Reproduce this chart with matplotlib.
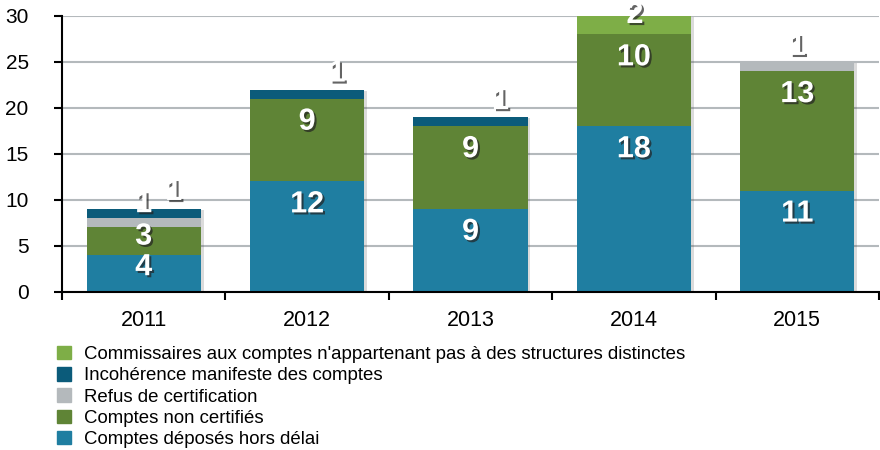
import matplotlib
matplotlib.use("Agg")
import matplotlib.pyplot as plt
import matplotlib.patheffects as pe
from matplotlib.patches import Patch
import numpy as np

plt.rcParams['font.family'] = ['Liberation Sans', 'DejaVu Sans']

# Data ---------------------------------------------------
years = ['2011', '2012', '2013', '2014', '2015']
deposes = [4, 12, 9, 18, 11]
non_certifies = [3, 9, 9, 10, 13]
refus = [1, 0, 0, 0, 1]
incoherence = [1, 1, 1, 0, 0]
commissaires = [0, 0, 0, 2, 0]

series_names = ['Comptes déposés hors délai',
                'Comptes non certifiés',
                'Refus de certification',
                'Incohérence manifeste des comptes',
                "Commissaires aux comptes n'appartenant pas à des structures distinctes"]
series_values = [deposes, non_certifies, refus, incoherence, commissaires]
colors = ['#1f7ea1', '#5f8436', '#b4b9bc', '#0b5b7a', '#7eae47']

# small segments get their label above the bar, shifted (dx, dy) in pixels
small_label_shift = {(0, 2): (0, 14), (0, 3): (30, 17), (1, 3): (30, 16),
                     (2, 3): (30, 16), (3, 4): (1, 1), (4, 2): (0, 15)}

# Plot ---------------------------------------------------
fig = plt.figure(figsize=(8.8, 4.5), dpi=100)
ax = fig.add_axes([62 / 880, 1 - 291.7 / 450, 817 / 880, (291.7 - 16) / 450])

x = np.arange(len(years))
width = 0.70
totals = np.sum(series_values, axis=0)

# soft shadow behind the stacks
ax.bar(x, totals, width, color='white', zorder=1.5,
       path_effects=[pe.SimplePatchShadow(offset=(2, -1), alpha=0.2), pe.Normal()])

txt_fx = [pe.withSimplePatchShadow(offset=(1.5, -1.5), shadow_rgbFace='#222222', alpha=0.7)]
bottom = np.zeros(len(years))
for s, (vals, col) in enumerate(zip(series_values, colors)):
    vals = np.array(vals, dtype=float)
    ax.bar(x, vals, width, bottom=bottom, color=col, zorder=2)
    for i, v in enumerate(vals):
        if v == 0:
            continue
        top = bottom[i] + v
        if (i, s) in small_label_shift:
            dx, dy = small_label_shift[(i, s)]
            ax.annotate('%d' % v, (x[i], top), xytext=(dx, dy), textcoords='offset pixels',
                        ha='center', va='center', color='white', fontsize=22,
                        fontweight='bold', path_effects=txt_fx, zorder=5,
                        annotation_clip=False)
        else:
            ypos = top - min(2.5, v / 3.0)
            ax.text(x[i], ypos, '%d' % v, ha='center', va='center', color='white',
                    fontsize=22, fontweight='bold', path_effects=txt_fx, zorder=5)
    bottom += vals

ax.set_ylim(0, 30)
ax.set_xlim(-0.5, 4.5)
ax.set_yticks(range(0, 31, 5))
ax.set_axisbelow(True)
ax.yaxis.grid(True, color='#b4b9bc', linewidth=1.5)

ax.set_xticks(np.arange(-0.5, 4.6, 1))
ax.set_xticklabels([])
ax.set_xticks(x, minor=True)
ax.set_xticklabels(years, minor=True)
ax.tick_params(axis='x', which='minor', length=0, labelsize=15.5, pad=13)
ax.tick_params(axis='x', which='major', length=6, width=1.5, direction='out')
ax.tick_params(axis='y', length=6, width=1.5, labelsize=15, pad=18)

for sp in ['top', 'right']:
    ax.spines[sp].set_visible(False)
for sp in ['left', 'bottom']:
    ax.spines[sp].set_linewidth(1.5)

handles = [Patch(color=c, label=n) for c, n in zip(colors, series_names)][::-1]
fig.legend(handles=handles, loc='upper left', bbox_to_anchor=(0.065, 1 - 346 / 450),
           frameon=False, fontsize=13.4, handlelength=0.72, handleheight=0.72,
           handletextpad=0.72, labelspacing=0.22, borderpad=0, borderaxespad=0)

fig.savefig('out.png', dpi=100)
